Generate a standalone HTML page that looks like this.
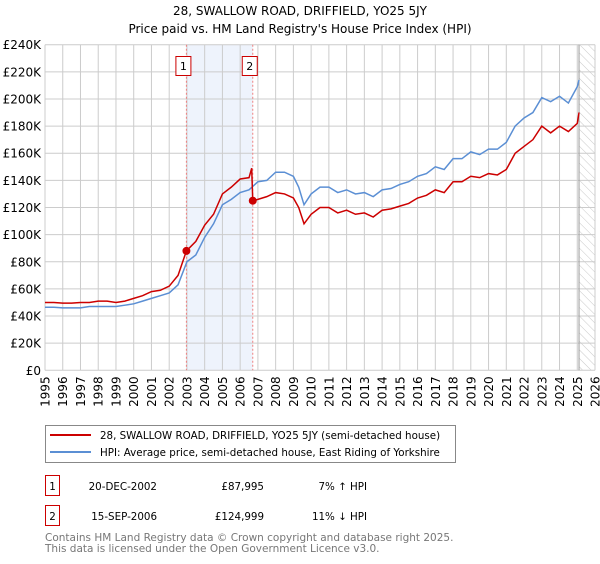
<!DOCTYPE html>
<html><head><meta charset="utf-8"><style>
body{margin:0;background:#fff;font-family:"DejaVu Sans","Liberation Sans",sans-serif;}
svg text{font-family:"DejaVu Sans","Liberation Sans",sans-serif;}
</style></head><body>
<svg id="chart" width="600" height="560" xmlns="http://www.w3.org/2000/svg">
<defs><pattern id="hatch" width="6" height="6" patternUnits="userSpaceOnUse" patternTransform="rotate(-45)"><line x1="0" y1="0" x2="0" y2="6" stroke="#bbb" stroke-width="0.8"/></pattern></defs>
<text x="300" y="15" text-anchor="middle" font-size="12">28, SWALLOW ROAD, DRIFFIELD, YO25 5JY</text>
<text x="300" y="33" text-anchor="middle" font-size="12">Price paid vs. HM Land Registry's House Price Index (HPI)</text>
<g id="grid"></g>
<g id="marks"></g>
<g>
<rect x="45.5" y="425.5" width="410" height="37" fill="#fff" stroke="#888"/>
<line x1="50" y1="435" x2="91" y2="435" stroke="#cc0000" stroke-width="2"/>
<text x="100" y="439" font-size="10.3">28, SWALLOW ROAD, DRIFFIELD, YO25 5JY (semi-detached house)</text>
<line x1="50" y1="452" x2="91" y2="452" stroke="#5b8fd4" stroke-width="2"/>
<text x="100" y="456" font-size="10.3">HPI: Average price, semi-detached house, East Riding of Yorkshire</text>
</g>
<g font-size="10.3">
<rect x="45.5" y="475.5" width="14" height="20" fill="#fff" stroke="#cc0000"/>
<text x="52.5" y="490" text-anchor="middle">1</text>
<text x="157" y="490" text-anchor="end">20-DEC-2002</text>
<text x="264" y="490" text-anchor="end">£87,995</text>
<text x="367" y="490" text-anchor="end">7% ↑ HPI</text>
<rect x="45.5" y="505.5" width="14" height="20" fill="#fff" stroke="#cc0000"/>
<text x="52.5" y="520" text-anchor="middle">2</text>
<text x="157" y="520" text-anchor="end">15-SEP-2006</text>
<text x="264" y="520" text-anchor="end">£124,999</text>
<text x="367" y="520" text-anchor="end">11% ↓ HPI</text>
</g>
<text x="45" y="541" font-size="10.5" fill="#777">Contains HM Land Registry data © Crown copyright and database right 2025.</text>
<text x="45" y="552" font-size="10.5" fill="#777">This data is licensed under the Open Government Licence v3.0.</text>
</svg>
<script>
const yTicks=[0,20,40,60,80,100,120,140,160,180,200,220,240];
const yearTicks=[1995,1996,1997,1998,1999,2000,2001,2002,2003,2004,2005,2006,2007,2008,2009,2010,2011,2012,2013,2014,2015,2016,2017,2018,2019,2020,2021,2022,2023,2024,2025,2026];
const hpiDates=[1995,1995.5,1996,1996.5,1997,1997.5,1998,1998.5,1999,1999.5,2000,2000.5,2001,2001.5,2002,2002.5,2003,2003.5,2004,2004.5,2005,2005.5,2006,2006.5,2007,2007.5,2008,2008.5,2009,2009.3,2009.6,2010,2010.5,2011,2011.5,2012,2012.5,2013,2013.5,2014,2014.5,2015,2015.5,2016,2016.5,2017,2017.5,2018,2018.5,2019,2019.5,2020,2020.5,2021,2021.5,2022,2022.5,2023,2023.5,2024,2024.5,2025,2025.1];
const hpiValues=[46.5,46.5,46,46,46,47,47,47,47,48,49,51,53,55,57,63,80,85,98,108,122,126,131,133,139,140,146,146,143,135,122,130,135,135,131,133,130,131,128,133,134,137,139,143,145,150,148,156,156,161,159,163,163,168,180,186,190,201,198,202,197,209,214];
const priceDates=[1995,1995.5,1996,1996.5,1997,1997.5,1998,1998.5,1999,1999.5,2000,2000.5,2001,2001.5,2002,2002.5,2002.97,2003.5,2004,2004.5,2005,2005.5,2006,2006.5,2006.65,2006.71,2007,2007.5,2008,2008.5,2009,2009.3,2009.6,2010,2010.5,2011,2011.5,2012,2012.5,2013,2013.5,2014,2014.5,2015,2015.5,2016,2016.5,2017,2017.5,2018,2018.5,2019,2019.5,2020,2020.5,2021,2021.5,2022,2022.5,2023,2023.5,2024,2024.5,2025,2025.1];
const priceValues=[50,50,49.5,49.5,50,50,51,51,50,51,53,55,58,59,62,70,88,95,107,115,130,135,141,142,149,125,126,128,131,130,127,120,108,115,120,120,116,118,115,116,113,118,119,121,123,127,129,133,131,139,139,143,142,145,144,148,160,165,170,180,175,180,176,182,190];
const saleDates=[2002.97,2006.71];
const saleValues=[87.995,124.999];
const saleLabels=["1","2"];
const L=45,R=595,T=44.7,B=370.3,X0=1995,X1=2026,YMAX=240;
const xs=v=>L+(v-X0)/(X1-X0)*(R-L);
const ys=v=>B-v/YMAX*(B-T);
const NS="http://www.w3.org/2000/svg";
function mk(tag,attrs,parent){const e=document.createElementNS(NS,tag);for(const k in attrs)e.setAttribute(k,attrs[k]);parent.appendChild(e);return e;}
const grid=document.getElementById('grid'),marks=document.getElementById('marks');
const sh=mk('rect',{x:xs(saleDates[0]),y:T,width:xs(saleDates[1])-xs(saleDates[0]),height:B-T,fill:'#eef3fc'},grid);


const lastDate=hpiDates[hpiDates.length-1];
const ht=mk('rect',{x:xs(lastDate),y:T,width:R-xs(lastDate),height:B-T,fill:'url(#hatch)'},grid);


yTicks.forEach(t=>{
 const ln=mk('line',{x1:L,x2:R,y1:ys(t),y2:ys(t),stroke:'#ccc','stroke-width':1},grid);
 
 
 const tx=mk('text',{x:L-4,y:ys(t)+4.5,'text-anchor':'end','font-size':12},grid);
 
 
 tx.textContent=t===0?'£0':'£'+t+'K';
});
yearTicks.forEach(t=>{
 const ln=mk('line',{x1:xs(t),x2:xs(t),y1:T,y2:B,stroke:'#ccc','stroke-width':1},grid);
 
 
 const tx=mk('text',{transform:`translate(${xs(t)+4.5},${B+6}) rotate(-90)`,'text-anchor':'end','font-size':12},grid);
 
 
 tx.textContent=t;
});
const vl=mk('line',{x1:xs(lastDate),x2:xs(lastDate),y1:T,y2:B,stroke:'#999','stroke-width':1},grid);


saleDates.forEach((d,i)=>{
 const ln=mk('line',{x1:xs(d),x2:xs(d),y1:T,y2:B,stroke:'#f08080','stroke-width':1,'stroke-dasharray':'2,2'},marks);
 
 
 const bx=mk('rect',{x:xs(d)-10.5,y:56.5,width:15,height:19,fill:'#fff',stroke:'#cc0000'},marks);
 
 
 const tx=mk('text',{x:xs(d)-3,y:70,'text-anchor':'middle','font-size':11},marks);
 
 
 tx.textContent=saleLabels[i];
});
const hp=mk('polyline',{points:hpiDates.map((d,i)=>xs(d)+','+ys(hpiValues[i])).join(' '),fill:'none',stroke:'#5b8fd4','stroke-width':1.5},marks);


const pp=mk('polyline',{points:priceDates.map((d,i)=>xs(d)+','+ys(priceValues[i])).join(' '),fill:'none',stroke:'#cc0000','stroke-width':1.5},marks);


saleDates.forEach((d,i)=>{
 const c=mk('circle',{cx:xs(d),cy:ys(saleValues[i]),r:4,fill:'#cc0000'},marks);
 
 
});
</script>
</body></html>
